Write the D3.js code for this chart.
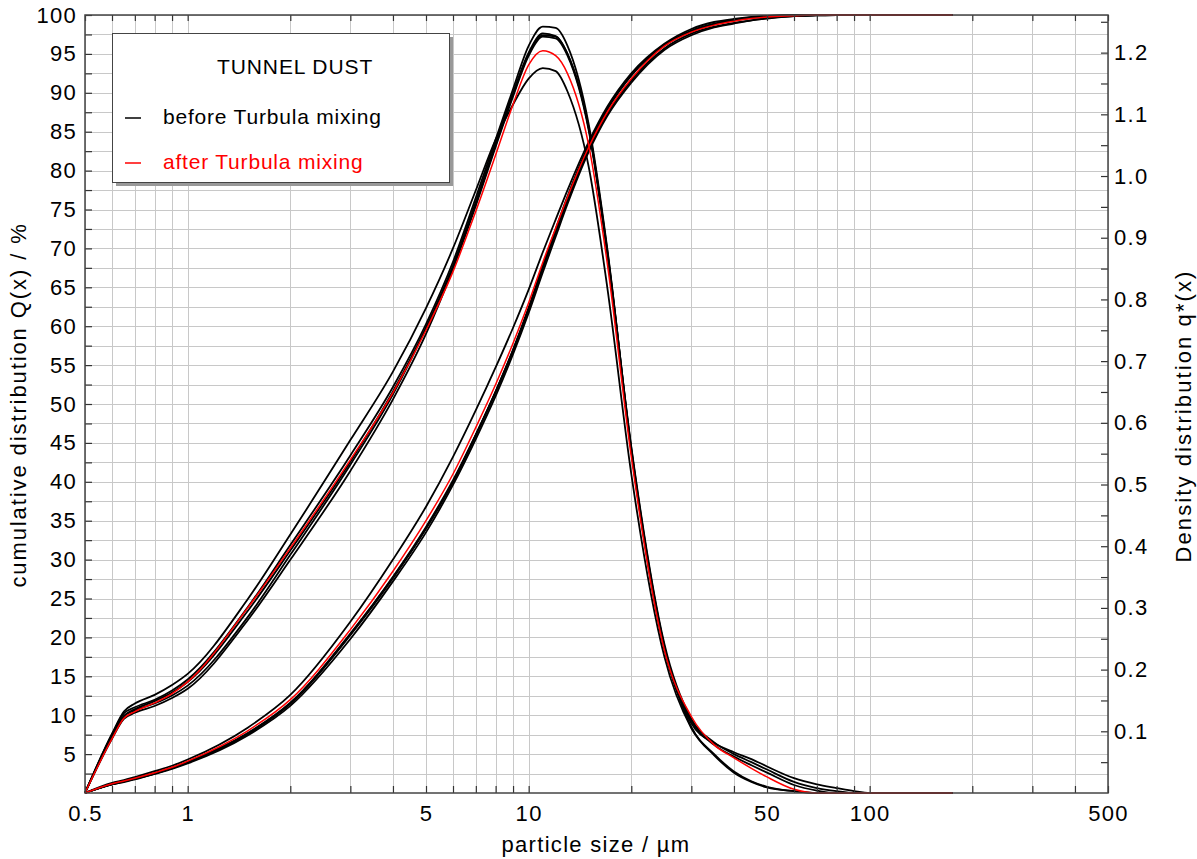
<!DOCTYPE html>
<html>
<head>
<meta charset="utf-8">
<script src="https://cdn.jsdelivr.net/npm/d3@7"></script>
<style>
  body { margin: 0; background: #fff; }
  text { font-family: "Liberation Sans", Arial, sans-serif; }
</style>
</head>
<body>
<script>
// particle sizes (µm) where the curves were read
var sizes = [0.5,0.6,0.65,0.7,0.8,0.9,1,1.5,2,3,4,5,6,7,8,9,10,11,12,13,15,17,20,25,30,35,40,45,50,60,70,80,90,100,150,175];

// cumulative distribution Q(x) / %  - before Turbula mixing (black runs)
var cumBefore = [
  [0,1.1,1.45,1.8,2.5,3.2,3.9,7.6,11.5,20.3,27.6,34.0,40.0,46.0,51.6,57.0,62.4,67.8,72.5,76.7,83.3,88.0,92.3,96.1,97.9,98.8,99.3,99.6,99.8,99.9,100,100,100,100,100,100],
  [0,1.15,1.5,1.85,2.55,3.25,4.0,7.7,11.6,20.5,27.8,34.2,40.2,46.1,51.6,56.9,62.2,67.4,72.0,76.1,82.7,87.3,91.6,95.7,97.6,98.5,99.0,99.3,99.6,99.85,99.95,100,100,100,100,100],
  [0,1.1,1.4,1.75,2.45,3.1,3.8,7.4,11.2,19.8,27.2,33.5,39.6,45.5,51.0,56.4,61.7,66.9,71.5,75.7,82.4,87.0,91.3,95.5,97.4,98.4,98.9,99.3,99.55,99.85,99.95,100,100,100,100,100],
  [0,1.3,1.65,2.05,2.8,3.5,4.3,8.4,12.6,22.0,30.0,36.8,43.2,49.2,54.7,59.8,64.7,69.5,73.7,77.5,83.7,88.2,92.5,96.3,98.2,99.1,99.5,99.75,99.9,100,100,100,100,100,100,100],
  [0,1.15,1.5,1.85,2.5,3.2,3.95,7.6,11.5,20.4,27.7,34.0,40.0,46.0,51.5,56.8,62.2,67.5,72.2,76.4,83.1,87.8,92.2,96.1,98.0,98.9,99.4,99.7,99.85,99.95,100,100,100,100,100,100]
];
// cumulative - after Turbula mixing (red)
var cumAfter = [0,1.2,1.55,1.9,2.6,3.3,4.1,8.0,12.0,21.0,28.5,35.0,41.0,47.0,52.5,57.8,63.0,68.2,72.6,76.6,83.0,87.5,91.8,96.0,97.8,98.7,99.2,99.55,99.75,99.9,100,100,100,100,100,100];

// density distribution q*(x) - before Turbula mixing (black runs)
var densBefore = [
  [0,.095,.129,.139,.151,.166,.184,.301,.402,.547,.658,.760,.861,.965,1.059,1.141,1.211,1.242,1.240,1.211,1.084,.883,.555,.233,.117,.078,.059,.045,.033,.013,.004,0,0,0,0,0],
  [0,.091,.124,.134,.145,.158,.174,.285,.386,.532,.646,.754,.855,.958,1.053,1.135,1.200,1.231,1.227,1.198,1.078,.876,.555,.237,.113,.081,.066,.055,.043,.024,.014,.008,.003,0,0,0],
  [0,.088,.120,.130,.141,.154,.169,.280,.378,.522,.638,.744,.850,.952,1.047,1.129,1.195,1.226,1.223,1.195,1.074,.876,.561,.242,.120,.082,.063,.050,.038,.018,.008,.003,0,0,0,0],
  [0,.096,.132,.145,.159,.175,.193,.314,.419,.572,.683,.786,.883,.977,1.059,1.116,1.158,1.175,1.170,1.137,1.015,.820,.517,.221,.105,.061,.033,.018,.009,.003,0,0,0,0,0,0],
  [0,.092,.125,.136,.149,.163,.180,.295,.393,.537,.651,.754,.852,.956,1.050,1.132,1.198,1.228,1.226,1.198,1.078,.880,.559,.238,.107,.063,.035,.019,.010,.003,0,0,0,0,0,0]
];
// density - after Turbula mixing (red)
var densAfter = [0,.088,.121,.132,.146,.161,.180,.300,.397,.540,.649,.750,.845,.943,1.034,1.116,1.180,1.203,1.195,1.166,1.050,.859,.545,.232,.124,.078,.057,.040,.026,.006,0,0,0,0,0,0];

// tick positions and labels
var xTicks = [0.5,0.6,0.7,0.8,0.9,1,2,3,4,5,6,7,8,9,10,20,30,40,50,60,70,80,90,100,200,300,400,500];
var xLabels = [0.5,1,5,10,50,100,500];
var leftTicks = d3.range(2.5, 100.01, 2.5);
var rightTicks = d3.range(1, 26).map(function(i) { return i * 0.05; });

var legendTitle = "TUNNEL DUST";
var legendNames = ["before Turbula mixing", "after Turbula mixing"];
var legendColors = ["#000", "#ff0000"];

var W = 1197, H = 859;
var pL = 85, pR = 1108, pT = 15, pB = 793;

var svg = d3.select("body").append("svg")
    .attr("width", W).attr("height", H);
svg.append("rect").attr("width", W).attr("height", H).attr("fill", "#fff");

var x = d3.scaleLog().domain([0.5, 500]).range([pL, pR]);
var yL = d3.scaleLinear().domain([0, 100]).range([pB, pT]);
var yR = d3.scaleLinear().domain([0, 1.261]).range([pB, pT]);

// grid
var grid = svg.append("g").attr("stroke", "#c8c8c8").attr("stroke-width", 1);
grid.selectAll(".gy").data(leftTicks).enter().append("line")
    .attr("x1", pL).attr("x2", pR)
    .attr("y1", function(d) { return Math.round(yL(d)) + 0.5; })
    .attr("y2", function(d) { return Math.round(yL(d)) + 0.5; });
grid.selectAll(".gx").data(xTicks).enter().append("line")
    .attr("y1", pT).attr("y2", pB)
    .attr("x1", function(d) { return Math.round(x(d)) + 0.5; })
    .attr("x2", function(d) { return Math.round(x(d)) + 0.5; });

// curves
var line = function(ys, yscale) {
    return d3.line()
        .x(function(d, i) { return x(sizes[i]); })
        .y(function(d) { return yscale(d); })
        .curve(d3.curveMonotoneX)(ys);
};
var curves = svg.append("g").attr("fill", "none").attr("stroke-linejoin", "round");
cumBefore.forEach(function(c) {
    curves.append("path").attr("d", line(c, yL)).attr("stroke", "#000").attr("stroke-width", 1.8);
});
densBefore.forEach(function(c) {
    curves.append("path").attr("d", line(c, yR)).attr("stroke", "#000").attr("stroke-width", 1.8);
});
curves.append("path").attr("d", line(cumAfter, yL)).attr("stroke", "#ff0000").attr("stroke-width", 1.5);
curves.append("path").attr("d", line(densAfter, yR)).attr("stroke", "#ff0000").attr("stroke-width", 1.5);

// axes
var fmtX = function(d) { return xLabels.indexOf(d) >= 0 ? d : ""; };
var axB = svg.append("g").attr("transform", "translate(0," + pB + ")")
    .call(d3.axisBottom(x).tickValues(xTicks).tickFormat(fmtX).tickSize(-7).tickPadding(12));
var axT = svg.append("g").attr("transform", "translate(0," + pT + ")")
    .call(d3.axisTop(x).tickValues(xTicks).tickFormat("").tickSize(-6));
var axL = svg.append("g").attr("transform", "translate(" + pL + ",0)")
    .call(d3.axisLeft(yL).tickValues(leftTicks)
        .tickFormat(function(d) { return d % 5 === 0 ? d : ""; })
        .tickSize(-7).tickPadding(8));
var axR = svg.append("g").attr("transform", "translate(" + pR + ",0)")
    .call(d3.axisRight(yR).tickValues(rightTicks)
        .tickFormat(function(d) { var v = Math.round(d * 100); return v % 10 === 0 ? d3.format(".1f")(d) : ""; })
        .tickSize(-7).tickPadding(6));

[axB, axT, axL, axR].forEach(function(a) {
    a.select(".domain").remove();
    a.selectAll(".tick line").attr("stroke", "#333").attr("stroke-width", 1.2);
    a.selectAll("text").attr("fill", "#000").style("font-size", "22px")
        .style("letter-spacing", "1.3px").attr("font-family", null);
});
axB.selectAll("text").attr("dy", "0.71em");

// frame
svg.append("rect").attr("x", pL).attr("y", pT)
    .attr("width", pR - pL).attr("height", pB - pT)
    .attr("fill", "none").attr("stroke", "#444").attr("stroke-width", 1.5);

// axis titles
svg.append("text").attr("transform", "translate(26," + 405 + ") rotate(-90)")
    .attr("text-anchor", "middle").style("font-size", "22px").style("letter-spacing", "1.9px")
    .text("cumulative distribution Q(x) / %");
svg.append("text").attr("transform", "translate(1191," + 416 + ") rotate(-90)")
    .attr("text-anchor", "middle").style("font-size", "22px").style("letter-spacing", "2.1px")
    .text("Density distribution q*(x)");
svg.append("text").attr("x", 596).attr("y", 852)
    .attr("text-anchor", "middle").style("font-size", "22px").style("letter-spacing", "1.3px")
    .text("particle size / µm");

// legend
var lg = svg.append("g");
lg.append("rect").attr("x", 116).attr("y", 37).attr("width", 337).attr("height", 149).attr("fill", "#999");
lg.append("rect").attr("x", 112.5).attr("y", 33.5).attr("width", 337).attr("height", 149)
    .attr("fill", "#fff").attr("stroke", "#444").attr("stroke-width", 1);
lg.append("text").attr("x", 217).attr("y", 74).style("font-size", "21px").style("letter-spacing", "0.9px")
    .text(legendTitle);
legendNames.forEach(function(n, i) {
    var yy = 124 + i * 45;
    lg.append("line").attr("x1", 125).attr("x2", 141).attr("y1", yy - 6).attr("y2", yy - 6)
        .attr("stroke", legendColors[i]).attr("stroke-width", 1.5);
    lg.append("text").attr("x", 163).attr("y", yy).attr("fill", legendColors[i])
        .style("font-size", "21px").style("letter-spacing", "0.8px").text(n);
});
</script>
</body>
</html>
